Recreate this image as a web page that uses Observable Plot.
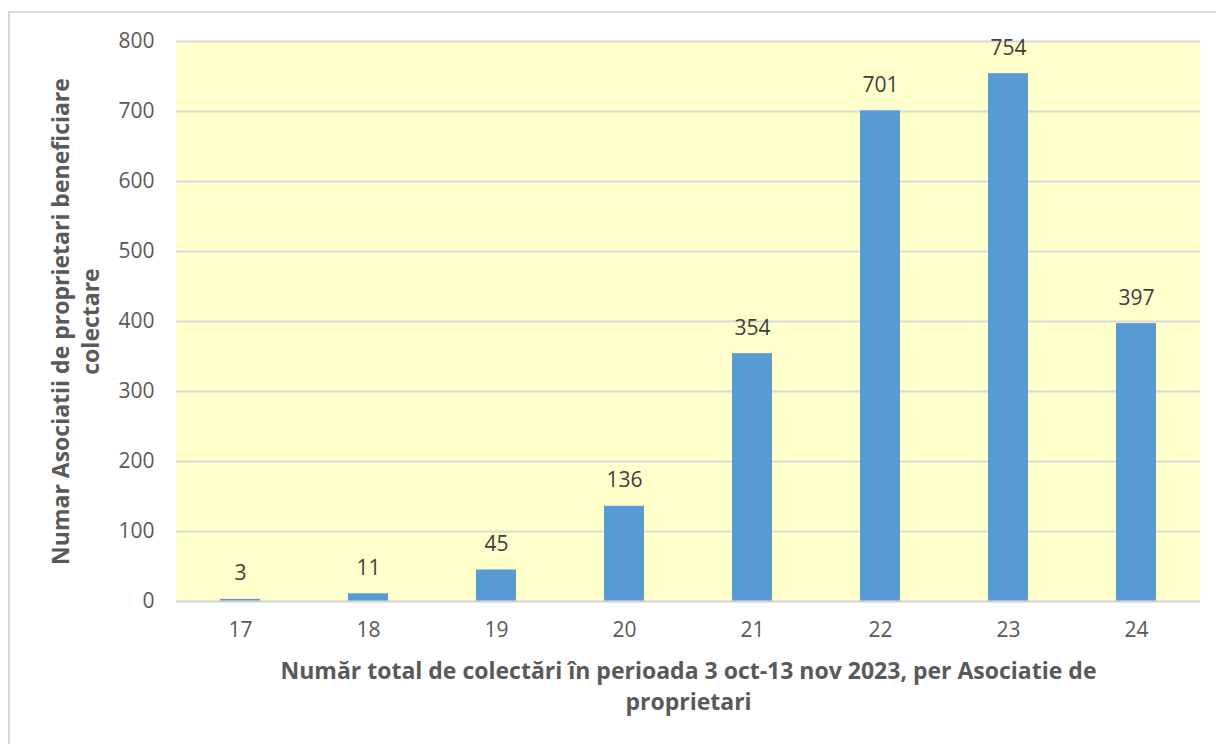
<!DOCTYPE html>
<html>
<head>
<meta charset="utf-8">
<script src="https://cdn.jsdelivr.net/npm/d3@7"></script>
<script src="https://cdn.jsdelivr.net/npm/@observablehq/plot@0.6"></script>
<style>
  html, body { margin: 0; padding: 0; background: #fff; }
  #wrap { position: relative; width: 1216px; height: 744px; overflow: hidden; }
  #border { position: absolute; left: 8px; top: 11px; width: 1240px; height: 760px;
            border-left: 2px solid #D9D9D9; border-top: 2px solid #D9D9D9; box-sizing: border-box; pointer-events: none; }
  #chart { position: absolute; left: 0; top: 0; }
</style>
</head>
<body>
<div id="wrap"><div id="chart"></div><div id="border"></div></div>
<script>
const categories = ["17", "18", "19", "20", "21", "22", "23", "24"];
const values = [3, 11, 45, 136, 354, 701, 754, 397];
const yTicks = [0, 100, 200, 300, 400, 500, 600, 700, 800];
const yTitle = ["Numar Asociatii de proprietari beneficiare", "colectare"];
const xTitle = ["Număr total de colectări în perioada 3 oct-13 nov 2023, per Asociatie de", "proprietari"];

const data = categories.map((c, i) => ({cat: c, value: values[i]}));
const font = "'Open Sans', 'Liberation Sans', sans-serif";

const chart = Plot.plot({
  width: 1216,
  height: 744,
  marginLeft: 176,
  marginRight: 16,
  marginTop: 41,
  marginBottom: 143,
  style: {fontFamily: font, fontSize: "21px", color: "#595959", background: "transparent"},
  x: {domain: categories, paddingInner: 0.6875, paddingOuter: 0.34375, align: 0.5, label: null},
  y: {domain: [0, 800], ticks: yTicks, label: null},
  marks: [
    Plot.frame({fill: "#FFFFCC", stroke: null}),
    Plot.gridY(yTicks, {stroke: "#D9D9D9", strokeOpacity: 1, strokeWidth: 2}),
    Plot.barY(data, {x: "cat", y: "value", fill: "#5B9BD5"}),
    Plot.ruleY([0], {stroke: "#D9D9D9", strokeWidth: 2}),
    Plot.axisX({tickSize: 0, tickPadding: 21, fontSize: 21, fill: "#595959", label: null}),
    Plot.axisY(yTicks, {tickSize: 0, tickPadding: 22, fontSize: 21, fill: "#595959", label: null}),
    Plot.text(data, {x: "cat", y: "value", text: d => String(d.value), lineAnchor: "bottom", dy: -19, fontSize: 21, fill: "#404040"}),
    Plot.text([yTitle.join("\n")], {frameAnchor: "left", textAnchor: "middle", lineAnchor: "middle", rotate: -90, dx: -102, text: d => d, fontSize: 23, fontWeight: "bold", fill: "#595959", lineHeight: 1.3}),
    Plot.text([xTitle.join("\n")], {frameAnchor: "bottom", textAnchor: "middle", dy: 55, lineAnchor: "top", text: d => d, fontSize: 23, fontWeight: "bold", fill: "#595959", lineHeight: 1.35})
  ]
});
document.getElementById("chart").appendChild(chart);
</script>
</body>
</html>
